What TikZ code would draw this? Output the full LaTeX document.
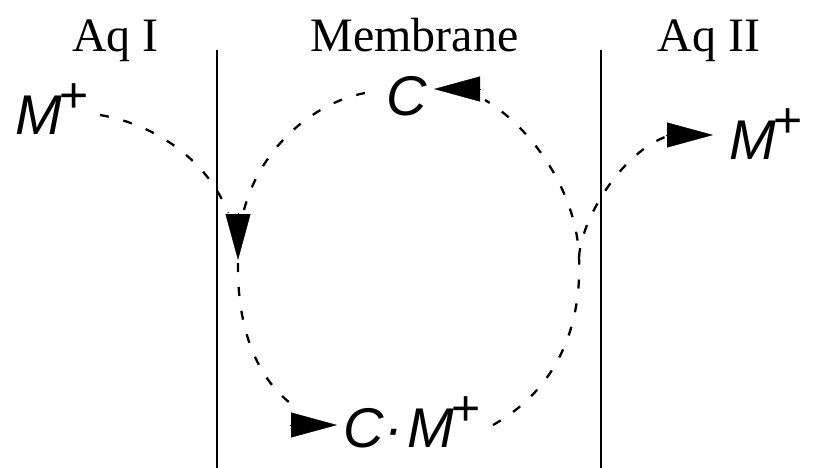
\documentclass[tikz,border=0pt]{standalone}
\usepackage{fontspec}
\setmainfont{Liberation Serif}
\newfontfamily\labfont{Liberation Sans}
\usetikzlibrary{arrows.meta}
\newcommand\plusup{\raisebox{22pt}{\upshape\fontsize{50}{50}\selectfont +}}
\newcommand\Mplus{M\kern-2pt\plusup}
\tikzset{
  wall/.style={line width=1.5pt},
  flow/.style={line width=2.3pt, dash pattern=on 9pt off 15pt},
  headtip/.style={line width=0.4pt, -{Triangle[length=46pt,width=25pt]}},
  heading/.style={font=\fontsize{48}{48}\selectfont, inner sep=0pt, anchor=base},
  spec/.style={font=\labfont\itshape\fontsize{56}{56}\selectfont, inner sep=0pt, anchor=base west},
}
\begin{document}
\begin{tikzpicture}[x=1pt,y=-1pt]
\useasboundingbox (0,0) rectangle (813,468);
% headings
\node[heading] (aq1) at (115.5,52) {Aq I};
\node[heading] (mem) at (414.5,52) {Membrane};
\node[heading] (aq2) at (709,52) {Aq II};
% membrane walls
\coordinate (w1t) at (217,50); \coordinate (w1b) at (217,468);
\coordinate (w2t) at (601,50); \coordinate (w2b) at (601,468);
\draw[wall] (w1t) -- (w1b);
\draw[wall] (w2t) -- (w2b);
% species
\node[spec] (mL) at (15,135) {\Mplus};
\node[spec] (cT) at (386,116) {C};
\node[spec] (cmB) at (343,447) {C\kern1pt·\kern4pt\Mplus};
\node[spec] (mR) at (729,159) {\Mplus};
% named points
\coordinate (a0) at (100,115);
\coordinate (lbl) at (228,213);
\coordinate (lbr) at (243,214);
\coordinate (lbase) at (238,213);
\coordinate (ltip) at (238,260);
\coordinate (lcont) at (238,263);
\coordinate (cstart) at (365,93);
\coordinate (bend) at (297,408);
\coordinate (bbase) at (290,425);
\coordinate (btip) at (337,425);
\coordinate (cmout) at (493,425);
\coordinate (rmid) at (579,257);
\coordinate (tend) at (485,100);
\coordinate (tbase) at (481,89);
\coordinate (ttip) at (434,89);
\coordinate (rbend) at (668,136);
\coordinate (rbase) at (666,135);
\coordinate (rtip) at (713,135);
% M+ (Aq I) into membrane
\draw[flow] (a0) .. controls (160,125) and (210,165) .. (lbl);
% carrier cycle
\draw[flow] (cstart) .. controls (312,103) and (258,150) .. (lbr);
\draw[headtip] (lbase) -- (ltip);
\draw[flow] (lcont) .. controls (237,325) and (255,380) .. (bend);
\draw[headtip] (bbase) -- (btip);
\draw[flow] (cmout) .. controls (555,390) and (582,330) .. (rmid)
            .. controls (577,195) and (535,130) .. (tend);
\draw[headtip] (tbase) -- (ttip);
% release into Aq II
\draw[flow] (rmid) .. controls (582,215) and (625,150) .. (rbend);
\draw[headtip] (rbase) -- (rtip);
\end{tikzpicture}
\end{document}
